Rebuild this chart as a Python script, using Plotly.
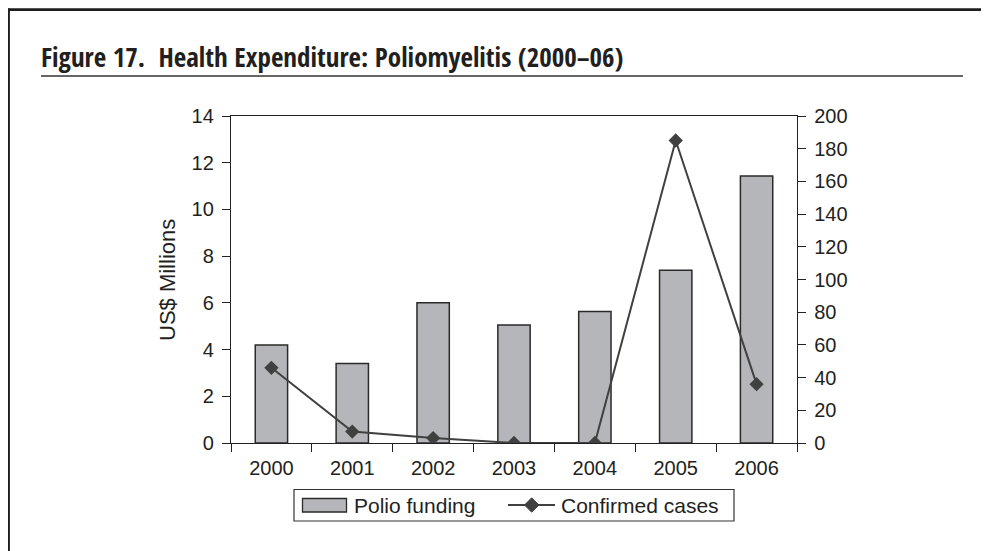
import plotly.graph_objects as go

# ---- data ----
years = ["2000", "2001", "2002", "2003", "2004", "2005", "2006"]
polio_funding = [4.2, 3.4, 6.0, 5.05, 5.63, 7.4, 11.43]      # US$ millions (left axis)
confirmed_cases = [46, 7, 3, 0, 0, 185, 36]                   # cases (right axis)
left_ticks = [0, 2, 4, 6, 8, 10, 12, 14]
right_ticks = [0, 20, 40, 60, 80, 100, 120, 140, 160, 180, 200]

title_text = "Figure 17.  Health Expenditure: Poliomyelitis (2000\u201306)"
y_title = "US$ Millions"
legend_names = ["Polio funding", "Confirmed cases"]

# ---- geometry (page pixels; the page body adds an 8px offset) ----
OFF = 8
W, H = 989 - OFF, 551 - OFF
L, R, T, B = 231 - OFF, 797 - OFF, 116 - OFF, 443 - OFF


def px(x):
    return (x - OFF - L) / (R - L)


def py(y):
    return (B - (y - OFF)) / (B - T)


INK = "#231f20"
AX = "#222222"
BAR_FILL = "#b5b6ba"
LINE_C = "#404040"
FONT = "Liberation Sans, Arial, sans-serif"
TITLE_FONT = "Open Sans Condensed, Roboto Condensed, DejaVu Sans Condensed, sans-serif"

fig = go.Figure()
fig.add_trace(go.Bar(
    x=years, y=polio_funding, width=0.4, name=legend_names[0],
    marker=dict(color=BAR_FILL, line=dict(color="#2a2a2a", width=1.5)),
    showlegend=False,
))
fig.add_trace(go.Scatter(
    x=years, y=confirmed_cases, yaxis="y2", name=legend_names[1],
    mode="lines+markers",
    line=dict(color=LINE_C, width=2),
    marker=dict(symbol="diamond", size=11, color=LINE_C),
    showlegend=False,
))

n = len(years)
bounds = [i - 0.5 for i in range(n + 1)]
tickfont = dict(family=FONT, size=20, color=INK)

fig.update_layout(
    width=W, height=H,
    margin=dict(l=L, r=W - R, t=T, b=H - B, pad=0),
    paper_bgcolor="white", plot_bgcolor="white",
    showlegend=False,
    xaxis=dict(
        type="category", range=[-0.5, n - 0.5],
        showline=True, linecolor=AX, linewidth=1.3, mirror=True,
        ticks="outside", tickson="boundaries", ticklen=8, tickwidth=1.3, tickcolor=AX,
        tickfont=tickfont, showgrid=False, zeroline=False, ticklabelstandoff=7,
    ),
    xaxis2=dict(
        overlaying="x", anchor="y", side="bottom", range=[-0.5, n - 0.5],
        tickmode="array", tickvals=bounds, ticks="inside", ticklen=8, tickwidth=1.3,
        tickcolor=AX, showticklabels=False, showline=False, showgrid=False, zeroline=False,
    ),
    yaxis=dict(
        range=[0, 14], tickmode="array", tickvals=left_ticks,
        showline=True, linecolor=AX, linewidth=1.3,
        ticks="outside", ticklen=8, tickwidth=1.3, tickcolor=AX,
        tickfont=tickfont, showgrid=False, zeroline=False, ticklabelstandoff=4,
    ),
    yaxis2=dict(
        overlaying="y", side="right", anchor="x", range=[0, 200],
        tickmode="array", tickvals=right_ticks,
        showline=True, linecolor=AX, linewidth=1.3,
        ticks="outside", ticklen=8, tickwidth=1.3, tickcolor=AX,
        tickfont=tickfont, showgrid=False, zeroline=False, ticklabelstandoff=4,
    ),
    yaxis3=dict(
        overlaying="y", side="left", anchor="x", range=[0, 14],
        tickmode="array", tickvals=left_ticks, ticks="inside", ticklen=8, tickwidth=1.3,
        tickcolor=AX, showticklabels=False, showline=False, showgrid=False, zeroline=False,
    ),
    yaxis4=dict(
        overlaying="y", side="right", anchor="x", range=[0, 200],
        tickmode="array", tickvals=right_ticks, ticks="inside", ticklen=8, tickwidth=1.3,
        tickcolor=AX, showticklabels=False, showline=False, showgrid=False, zeroline=False,
    ),
)

shapes = []
# outer frame (open on right/bottom)
shapes.append(dict(type="line", xref="paper", yref="paper",
                   x0=px(8), x1=px(989 + 5), y0=py(9.7), y1=py(9.7),
                   line=dict(color="#1e1e1e", width=2.7)))
shapes.append(dict(type="line", xref="paper", yref="paper",
                   x0=px(8.9), x1=px(8.9), y0=py(8.4), y1=py(551 + 5),
                   line=dict(color="#1e1e1e", width=2)))
# title underline
shapes.append(dict(type="line", xref="paper", yref="paper",
                   x0=px(41), x1=px(963), y0=py(76), y1=py(76),
                   line=dict(color="#333333", width=1.3)))
# legend box
shapes.append(dict(type="rect", xref="paper", yref="paper",
                   x0=px(294), x1=px(734), y0=py(489.5), y1=py(521),
                   line=dict(color="#333333", width=1.2), fillcolor="white"))
# bar swatch
shapes.append(dict(type="rect", xref="paper", yref="paper",
                   x0=px(302.5), x1=px(346.5), y0=py(498.5), y1=py(512),
                   line=dict(color="#2a2a2a", width=1.3), fillcolor=BAR_FILL))
# line swatch
shapes.append(dict(type="line", xref="paper", yref="paper",
                   x0=px(508), x1=px(555), y0=py(505), y1=py(505),
                   line=dict(color=LINE_C, width=2)))
cx, cy, d = 531.7, 505, 7.2
path = "M {} {} L {} {} L {} {} L {} {} Z".format(
    px(cx), py(cy - d), px(cx + d), py(cy), px(cx), py(cy + d), px(cx - d), py(cy))
shapes.append(dict(type="path", xref="paper", yref="paper", path=path,
                   line=dict(color=LINE_C, width=1), fillcolor=LINE_C))
fig.update_layout(shapes=shapes)

annotations = [
    dict(text="<b>" + title_text + "</b>", xref="paper", yref="paper",
         x=px(39), y=py(56), xanchor="left", yanchor="middle", showarrow=False,
         font=dict(family=TITLE_FONT, size=27, color=INK)),
    dict(text=y_title, xref="paper", yref="paper", x=px(167), y=py(280),
         xanchor="center", yanchor="middle", textangle=-90, showarrow=False,
         font=dict(family=FONT, size=22, color=INK)),
    dict(text=legend_names[0], xref="paper", yref="paper", x=px(351.5), y=py(505),
         xanchor="left", yanchor="middle", showarrow=False,
         font=dict(family=FONT, size=21, color=INK)),
    dict(text=legend_names[1], xref="paper", yref="paper", x=px(559), y=py(505),
         xanchor="left", yanchor="middle", showarrow=False,
         font=dict(family=FONT, size=21, color=INK)),
]
fig.update_layout(annotations=annotations)

fig.write_html("out.html")
